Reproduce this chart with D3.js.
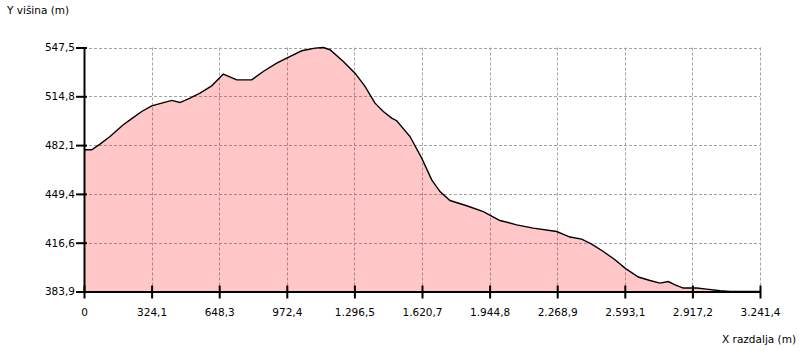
<!DOCTYPE html>
<html>
<head>
<meta charset="utf-8">
<script src="https://cdn.jsdelivr.net/npm/d3@7"></script>
<style>
  body { margin: 0; background: #fff; }
  text { font-family: "DejaVu Sans", sans-serif; font-size: 10.5px; fill: #000; }
</style>
</head>
<body>
<script>
// elevation profile: distance (m) vs height (m)

const distance = [0, 36.9, 76.7, 124.7, 188.4, 220.6, 276.7, 324.6, 372.6, 420.5, 460.3, 508.3, 556.2, 612.3, 668.0,
  732.2, 804.2, 859.7, 924.0, 972.0, 1043.9, 1107.6, 1147.4, 1179.6, 1243.4, 1299.5, 1347.4, 1395.4, 1435.2,
  1475.4, 1499.4, 1563.2, 1619.3, 1667.3, 1707.0, 1755.0, 1835.0, 1914.6, 1994.7, 2074.8, 2154.4, 2266.6,
  2330.4, 2386.5, 2434.4, 2490.1, 2546.1, 2594.1, 2657.9, 2714.0, 2762.0, 2801.8, 2833.9, 2873.7, 2938.0,
  2985.9, 3049.7, 3097.6, 3241.4];
const height = [478.9, 478.9, 482.7, 487.8, 495.7, 499.0, 504.6, 508.4, 510.2, 512.0, 510.6, 513.6, 516.9, 521.8, 529.7,
  525.8, 525.8, 531.4, 537.0, 540.4, 545.3, 547.1, 547.5, 546.0, 538.1, 530.3, 521.4, 510.2, 504.6,
  500.2, 498.4, 487.8, 473.3, 458.8, 450.9, 444.9, 441.4, 437.5, 431.5, 428.6, 426.4, 424.1,
  420.4, 419.0, 415.7, 410.7, 405.2, 399.6, 393.6, 391.3, 389.5, 390.6, 388.4, 386.2, 386.2,
  385.5, 384.4, 383.9, 383.9];

const xTicks = [0, 324.14, 648.28, 972.42, 1296.56, 1620.7, 1944.84, 2268.98, 2593.12, 2917.26, 3241.4];
const xTickLabels = ["0", "324,1", "648,3", "972,4", "1.296,5", "1.620,7", "1.944,8", "2.268,9", "2.593,1", "2.917,2", "3.241,4"];
const yTicks = [383.9, 416.62, 449.34, 482.06, 514.78, 547.5];
const yTickLabels = ["383,9", "416,6", "449,4", "482,1", "514,8", "547,5"];

const profile = distance.map((d, i) => ({ x: d, y: height[i] }));

const svgWidth = 800;
const svgHeight = 351;
const m = { left: 84, right: 760, top: 47.5, bottom: 291.5 };

const xScale = d3.scaleLinear().domain([0, 3241.4]).range([m.left, m.right]);
const yScale = d3.scaleLinear().domain([383.9, 547.5]).range([m.bottom, m.top]);

const svg = d3.select('body').append('svg')
  .attr('width', svgWidth)
  .attr('height', svgHeight);

// grid
svg.append('g').selectAll('line')
  .data(xTicks.slice(1))
  .enter().append('line')
  .attr('x1', d => Math.round(xScale(d)) + 0.5)
  .attr('x2', d => Math.round(xScale(d)) + 0.5)
  .attr('y1', m.top).attr('y2', m.bottom)
  .attr('stroke', '#a3a3a3').attr('stroke-dasharray', '3,2');

svg.append('g').selectAll('line')
  .data(yTicks.slice(1))
  .enter().append('line')
  .attr('y1', d => Math.round(yScale(d)) + 0.5)
  .attr('y2', d => Math.round(yScale(d)) + 0.5)
  .attr('x1', m.left).attr('x2', m.right)
  .attr('stroke', '#a3a3a3').attr('stroke-dasharray', '3,2');

// area + line
const area = d3.area()
  .x(d => xScale(d.x))
  .y0(yScale(383.9))
  .y1(d => yScale(d.y));

const line = d3.line()
  .x(d => xScale(d.x))
  .y(d => yScale(d.y));

svg.append('path')
  .datum(profile)
  .attr('d', area)
  .attr('fill', 'rgba(255,0,0,0.22)');

svg.append('path')
  .datum(profile)
  .attr('d', line)
  .attr('fill', 'none')
  .attr('stroke', '#000')
  .attr('stroke-width', 1.4);

// axes
const yAxis = d3.axisLeft(yScale)
  .tickValues(yTicks)
  .tickFormat((d, i) => yTickLabels[i])
  .tickSizeInner(8)
  .tickSizeOuter(0)
  .tickPadding(1);

const xAxis = d3.axisBottom(xScale)
  .tickValues(xTicks)
  .tickFormat((d, i) => xTickLabels[i])
  .tickSizeInner(7)
  .tickSizeOuter(0)
  .tickPadding(8);

const gy = svg.append('g')
  .attr('transform', `translate(${m.left},0)`)
  .call(yAxis);

const gx = svg.append('g')
  .attr('transform', `translate(0,${m.bottom})`)
  .call(xAxis);

[gx, gy].forEach(g => {
  g.select('.domain').attr('stroke', '#000').attr('stroke-width', 2);
  g.selectAll('.tick line').attr('stroke', '#000').attr('stroke-width', 2);
  g.selectAll('text').attr('font-family', 'DejaVu Sans, sans-serif').attr('font-size', '10.5px');
});
gy.selectAll('.tick line').attr('x2', -8).attr('x1', 3);
gx.selectAll('.tick line').attr('y1', -6).attr('y2', 7);
gx.selectAll('.tick text').attr('dy', '0.95em');

// axis titles
svg.append('text')
  .attr('x', 7).attr('y', 14)
  .text('Y višina (m)');

svg.append('text')
  .attr('x', 796).attr('y', 343)
  .attr('text-anchor', 'end')
  .text('X razdalja (m)');
</script>
</body>
</html>
